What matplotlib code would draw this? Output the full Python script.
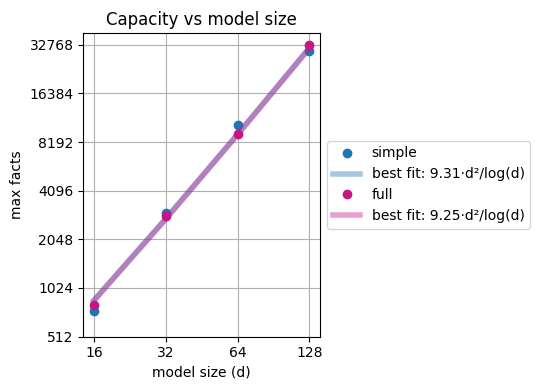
import matplotlib
matplotlib.use('Agg')
import matplotlib.pyplot as plt
from matplotlib.ticker import FixedLocator, FixedFormatter, NullLocator

# model sizes and measured capacities
d = [16, 32, 64, 128]
simple = [740, 3000, 10480, 30060]
full = [805, 2850, 9170, 32768]

# best fit curves c*d^2/ln(d), evaluated at the model sizes
fit_simple = [860, 2751, 9169, 31437]
fit_full = [854, 2733, 9110, 31234]
fit_simple_label = 'best fit: 9.31·d²/log(d)'
fit_full_label = 'best fit: 9.25·d²/log(d)'

yticks = [512, 1024, 2048, 4096, 8192, 16384, 32768]

fig = plt.figure(figsize=(5.4, 3.9), dpi=100)
ax = fig.add_axes([0.154, 0.137, 0.439, 0.778])

ax.plot(d, simple, 'o', color='#1f77b4', label='simple')
ax.plot(d, fit_simple, '-', color='#1f77b4', alpha=0.4, lw=4, label=fit_simple_label)
ax.plot(d, full, 'o', color='mediumvioletred', label='full')
ax.plot(d, fit_full, '-', color='mediumvioletred', alpha=0.4, lw=4, label=fit_full_label)

ax.set_xscale('log', base=2)
ax.set_yscale('log', base=2)
ax.xaxis.set_major_locator(FixedLocator(d))
ax.xaxis.set_major_formatter(FixedFormatter([str(v) for v in d]))
ax.xaxis.set_minor_locator(NullLocator())
ax.yaxis.set_major_locator(FixedLocator(yticks))
ax.yaxis.set_major_formatter(FixedFormatter([str(v) for v in yticks]))
ax.yaxis.set_minor_locator(NullLocator())
ax.set_ylim(512, 2 ** 15.24)

ax.grid(True)
ax.set_xlabel('model size (d)')
ax.set_ylabel('max facts')
ax.set_title('Capacity vs model size')
ax.legend(loc='center left', bbox_to_anchor=(1.0, 0.5))

fig.savefig('out.png', dpi=100)
